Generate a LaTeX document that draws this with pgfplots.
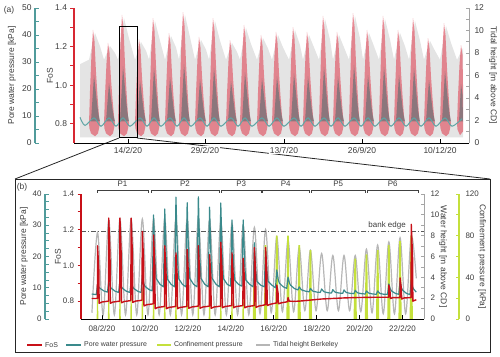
\documentclass[border=0pt]{standalone}
\usepackage{fontspec}
\setmainfont{Liberation Sans}
\usepackage{pgfplots}
\pgfplotsset{compat=1.18}
\definecolor{redA}{RGB}{225,95,110}
\definecolor{redaxis}{RGB}{215,40,50}
\definecolor{redB}{RGB}{200,16,24}
\definecolor{tealA}{RGB}{95,165,165}
\definecolor{tealaxis}{RGB}{80,155,155}
\definecolor{tealB}{RGB}{58,138,140}
\definecolor{darkin}{RGB}{95,112,115}
\definecolor{grayA}{RGB}{228,228,228}
\definecolor{tideB}{RGB}{182,182,182}
\definecolor{grayaxis}{RGB}{165,165,165}
\definecolor{limeC}{RGB}{196,224,60}
\definecolor{txt}{RGB}{60,60,60}
\pgfplotsset{
  base/.style={scale only axis, anchor=south west,
    /pgf/number format/assume math mode=true,
    major tick length=3.5bp, minor tick length=3.5bp},
  pa/.style={base, at={(74bp,214bp)}, width=395bp, height=135bp, xmin=74, xmax=469,
    tick label style={font=\fontsize{8.5}{9}\selectfont, text=txt}},
  pb/.style={base, at={(81bp,38bp)}, width=343bp, height=125bp, xmin=7.02, xmax=23.0,
    tick label style={font=\fontsize{8}{9}\selectfont, text=txt}},
  ylab/.style 2 args={every axis y label/.style={at={(axis description cs:#1,0.5)}, rotate=#2, anchor=center, font=\fontsize{8.5}{9}\selectfont, text=txt}},
}
\begin{document}
\begin{tikzpicture}
\useasboundingbox (0,0) rectangle (500bp,357bp);
% connecting lines (annotation)
\draw[line width=0.8bp, black!85] (119bp,219bp) -- (15bp,178bp);
\draw[line width=0.8bp, black!85] (137bp,219bp) -- (490bp,178bp);
\draw[line width=0.8bp, black!85] (15bp,5bp) rectangle (490bp,178bp);
\node[font=\fontsize{8.5}{9}\selectfont, text=txt] at (9bp,347bp) {(a)};
\node[font=\fontsize{8.5}{9}\selectfont, text=txt] at (22bp,170bp) {(b)};

%%%%%%%%%%%%%%%% PANEL A %%%%%%%%%%%%%%%%
\begin{axis}[pa, ymin=0, ymax=12,
  axis x line*=bottom, axis y line*=right, tick align=inside,
  x axis line style={black, line width=0.8bp}, xtick style={black, line width=0.8bp},
  y axis line style={grayaxis, line width=1bp}, ytick style={grayaxis, line width=0.8bp},
  xtick={128,205,284,362,440}, xticklabels={14/2/20,29/2/20,13/7/20,26/9/20,10/12/20},
  xticklabel style={fill=white, inner sep=1bp, yshift=-3bp},
  ytick={0,1,...,12}, yticklabels={0,,2,,4,,6,,8,,10,,12},
  yticklabel style={xshift=2bp},
  ylabel={Tidal height [m above CD]}, ylab={1.061}{-90}]
\addplot[fill=grayA, draw=none] coordinates {
(80,0.5)(80,7.0)
(89,7.4)(95,9.78)(100,8.6)
(104,7.4)(110,8.62)(115,8.0)
(118,7.4)(124,11.11)(129,9.3)
(135,7.4)(141,8.98)(146,8.2)
(149,7.4)(155,10.84)(160,9.1)
(165,7.4)(171,9.51)(176,8.5)
(179,7.4)(185,11.38)(190,9.4)
(195,7.4)(201,9.16)(206,8.3)
(209,7.4)(215,10.84)(220,9.1)
(226,7.4)(232,8.89)(237,8.1)
(240,7.4)(246,10.22)(251,8.8)
(257,7.4)(263,9.33)(268,8.4)
(272,7.4)(278,9.60)(283,8.5)
(289,7.4)(295,10.04)(300,8.7)
(303,7.4)(309,9.60)(314,8.5)
(319,7.4)(325,11.02)(330,9.2)
(333,7.4)(339,9.60)(344,8.5)
(349,7.4)(355,11.29)(360,9.3)
(363,7.4)(369,9.78)(374,8.6)
(379,7.4)(385,11.02)(390,9.2)
(394,7.4)(400,9.78)(405,8.6)
(409,7.4)(415,10.84)(420,9.1)
(424,7.4)(430,9.07)(435,8.2)
(440,7.4)(446,10.40)(451,8.9)
(457,7.4)(463,8.44)(463,0.5)
} -- cycle;
\end{axis}
\begin{axis}[pa, ymin=0.7, ymax=1.4,
  axis x line=none, axis y line*=left, tick align=outside, xtick=\empty,
  y axis line style={redaxis, line width=1.2bp}, ytick style={redaxis, line width=0.8bp},
  ytick={0.8,0.9,1.0,1.1,1.2,1.3,1.4}, yticklabels={0.8,,1.0,,1.2,,1.4},
  ylabel={FoS}, ylab={-0.061}{90}, unbounded coords=jump]
\addplot[fill=redA, fill opacity=0.72, draw=none] coordinates {
(89,.80)(90,.970)(91.5,1.165)(93,1.286)(94.5,1.228)(96,1.067)(97.5,.946)(99,.84)(100,.80)(98,.75)(95,.735)(91,.75)(89.5,.775)(nan,nan)
(104,.80)(105,.947)(106.5,1.114)(108,1.219)(109.5,1.169)(111,1.030)(112.5,.926)(114,.84)(115,.80)(113,.75)(110,.735)(106,.75)(104.5,.775)(nan,nan)
(118,.80)(119,.997)(120.5,1.223)(122,1.364)(123.5,1.296)(125,1.110)(126.5,.969)(128,.84)(129,.80)(127,.75)(124,.735)(120,.75)(118.5,.775)(nan,nan)
(135,.80)(136,.954)(137.5,1.129)(139,1.239)(140.5,1.186)(142,1.041)(143.5,.932)(145,.84)(146,.80)(144,.75)(141,.735)(137,.75)(135.5,.775)(nan,nan)
(149,.80)(150,.992)(151.5,1.211)(153,1.348)(154.5,1.282)(156,1.101)(157.5,.964)(159,.84)(160,.80)(158,.75)(155,.735)(151,.75)(149.5,.775)(nan,nan)
(165,.80)(166,.965)(167.5,1.153)(169,1.270)(170.5,1.214)(172,1.059)(173.5,.941)(175,.84)(176,.80)(174,.75)(171,.735)(167,.75)(165.5,.775)(nan,nan)
(179,.80)(180,1.003)(181.5,1.234)(183,1.379)(184.5,1.310)(186,1.118)(187.5,.974)(189,.84)(190,.80)(188,.75)(185,.735)(181,.75)(179.5,.775)(nan,nan)
(195,.80)(196,.958)(197.5,1.138)(199,1.250)(200.5,1.196)(202,1.048)(203.5,.935)(205,.84)(206,.80)(204,.75)(201,.735)(197,.75)(195.5,.775)(nan,nan)
(209,.80)(210,.992)(211.5,1.211)(213,1.348)(214.5,1.282)(216,1.101)(217.5,.964)(219,.84)(220,.80)(218,.75)(215,.735)(211,.75)(209.5,.775)(nan,nan)
(226,.80)(227,.952)(228.5,1.126)(230,1.234)(231.5,1.182)(233,1.039)(234.5,.930)(236,.84)(237,.80)(235,.75)(232,.735)(228,.75)(226.5,.775)(nan,nan)
(240,.80)(241,.979)(242.5,1.184)(244,1.312)(245.5,1.251)(247,1.082)(248.5,.954)(250,.84)(251,.80)(249,.75)(246,.735)(242,.75)(240.5,.775)(nan,nan)
(257,.80)(258,.961)(259.5,1.145)(261,1.260)(262.5,1.205)(264,1.053)(265.5,.938)(267,.84)(268,.80)(266,.75)(263,.735)(259,.75)(257.5,.775)(nan,nan)
(272,.80)(273,.967)(274.5,1.157)(276,1.276)(277.5,1.219)(279,1.062)(280.5,.943)(282,.84)(283,.80)(281,.75)(278,.735)(274,.75)(272.5,.775)(nan,nan)
(289,.80)(290,.975)(291.5,1.176)(293,1.301)(294.5,1.241)(296,1.076)(297.5,.950)(299,.84)(300,.80)(298,.75)(295,.735)(291,.75)(289.5,.775)(nan,nan)
(303,.80)(304,.967)(305.5,1.157)(307,1.276)(308.5,1.219)(310,1.062)(311.5,.943)(313,.84)(314,.80)(312,.75)(309,.735)(305,.75)(303.5,.775)(nan,nan)
(319,.80)(320,.996)(321.5,1.219)(323,1.359)(324.5,1.292)(326,1.107)(327.5,.968)(329,.84)(330,.80)(328,.75)(325,.735)(321,.75)(319.5,.775)(nan,nan)
(333,.80)(334,.967)(335.5,1.157)(337,1.276)(338.5,1.219)(340,1.062)(341.5,.943)(343,.84)(344,.80)(342,.75)(339,.735)(335,.75)(333.5,.775)(nan,nan)
(349,.80)(350,1.001)(351.5,1.231)(353,1.374)(354.5,1.305)(356,1.116)(357.5,.972)(359,.84)(360,.80)(358,.75)(355,.735)(351,.75)(349.5,.775)(nan,nan)
(363,.80)(364,.970)(365.5,1.165)(367,1.286)(368.5,1.228)(370,1.067)(371.5,.946)(373,.84)(374,.80)(372,.75)(369,.735)(365,.75)(363.5,.775)(nan,nan)
(379,.80)(380,.996)(381.5,1.219)(383,1.359)(384.5,1.292)(386,1.107)(387.5,.968)(389,.84)(390,.80)(388,.75)(385,.735)(381,.75)(379.5,.775)(nan,nan)
(394,.80)(395,.970)(396.5,1.165)(398,1.286)(399.5,1.228)(401,1.067)(402.5,.946)(404,.84)(405,.80)(403,.75)(400,.735)(396,.75)(394.5,.775)(nan,nan)
(409,.80)(410,.992)(411.5,1.211)(413,1.348)(414.5,1.282)(416,1.101)(417.5,.964)(419,.84)(420,.80)(418,.75)(415,.735)(411,.75)(409.5,.775)(nan,nan)
(424,.80)(425,.955)(426.5,1.133)(428,1.244)(429.5,1.191)(431,1.044)(432.5,.933)(434,.84)(435,.80)(433,.75)(430,.735)(426,.75)(424.5,.775)(nan,nan)
(440,.80)(441,.983)(442.5,1.192)(444,1.322)(445.5,1.259)(447,1.087)(448.5,.957)(450,.84)(451,.80)(449,.75)(446,.735)(442,.75)(440.5,.775)(nan,nan)
(457,.80)(458,.943)(459.5,1.106)(461,1.208)(462.5,1.159)(463,1.0)(463,.76)(460,.74)(457.5,.77)
};
\end{axis}
\begin{axis}[pa, ymin=0, ymax=50, hide axis, unbounded coords=jump]
\addplot[fill=darkin, fill opacity=0.65, draw=none] coordinates {
(91,8)(92.5,16.6)(94,25.1)(95.5,20.0)(97,14.8)(98.5,10.6)(100,8)(nan,nan)
(106,8)(107.5,15.1)(109,22.2)(110.5,17.9)(112,13.7)(113.5,10.1)(115,8)(nan,nan)
(120,8)(121.5,18.2)(123,28.4)(124.5,22.3)(126,16.2)(127.5,11.1)(129,8)(nan,nan)
(137,8)(138.5,15.6)(140,23.1)(141.5,18.6)(143,14.0)(144.5,10.3)(146,8)(nan,nan)
(151,8)(152.5,17.9)(154,27.8)(155.5,21.9)(157,15.9)(158.5,11.0)(160,8)(nan,nan)
(167,8)(168.5,16.2)(170,24.4)(171.5,19.5)(173,14.6)(174.5,10.5)(176,8)(nan,nan)
(181,8)(182.5,18.6)(184,29.1)(185.5,22.8)(187,16.4)(188.5,11.2)(190,8)(nan,nan)
(197,8)(198.5,15.8)(200,23.6)(201.5,18.9)(203,14.2)(204.5,10.3)(206,8)(nan,nan)
(211,8)(212.5,17.9)(214,27.8)(215.5,21.9)(217,15.9)(218.5,11.0)(220,8)(nan,nan)
(228,8)(229.5,15.5)(231,22.9)(232.5,18.4)(234,14.0)(235.5,10.2)(237,8)(nan,nan)
(242,8)(243.5,17.1)(245,26.2)(246.5,20.7)(248,15.3)(249.5,10.7)(251,8)(nan,nan)
(259,8)(260.5,16.0)(262,24.0)(263.5,19.2)(265,14.4)(266.5,10.4)(268,8)(nan,nan)
(274,8)(275.5,16.4)(277,24.7)(278.5,19.7)(280,14.7)(281.5,10.5)(283,8)(nan,nan)
(291,8)(292.5,16.9)(294,25.8)(295.5,20.5)(297,15.1)(298.5,10.7)(300,8)(nan,nan)
(305,8)(306.5,16.4)(308,24.7)(309.5,19.7)(311,14.7)(312.5,10.5)(314,8)(nan,nan)
(321,8)(322.5,18.1)(324,28.2)(325.5,22.1)(327,16.1)(328.5,11.0)(330,8)(nan,nan)
(335,8)(336.5,16.4)(338,24.7)(339.5,19.7)(341,14.7)(342.5,10.5)(344,8)(nan,nan)
(351,8)(352.5,18.5)(354,28.9)(355.5,22.6)(357,16.4)(358.5,11.1)(360,8)(nan,nan)
(365,8)(366.5,16.6)(368,25.1)(369.5,20.0)(371,14.8)(372.5,10.6)(374,8)(nan,nan)
(381,8)(382.5,18.1)(384,28.2)(385.5,22.1)(387,16.1)(388.5,11.0)(390,8)(nan,nan)
(396,8)(397.5,16.6)(399,25.1)(400.5,20.0)(402,14.8)(403.5,10.6)(405,8)(nan,nan)
(411,8)(412.5,17.9)(414,27.8)(415.5,21.9)(417,15.9)(418.5,11.0)(420,8)(nan,nan)
(426,8)(427.5,15.7)(429,23.3)(430.5,18.7)(432,14.1)(433.5,10.3)(435,8)(nan,nan)
(442,8)(443.5,17.4)(445,26.7)(446.5,21.1)(448,15.5)(449.5,10.8)(451,8)(nan,nan)
(459,8)(460,14.9)(461,21.8)(462.5,18.0)(463,8)
};
\addplot[tealA, line width=1bp, smooth] coordinates {
(80,9.5)(85,6.5)
(94,9.3)(101,6.2)(109,9.3)(116,6.2)(123,9.3)(130,6.2)(140,9.3)(147,6.2)(154,9.3)(161,6.2)
(170,9.3)(177,6.2)(184,9.3)(191,6.2)(200,9.3)(207,6.2)(214,9.3)(221,6.2)(231,9.3)(238,6.2)
(245,9.3)(252,6.2)(262,9.3)(269,6.2)(277,9.3)(284,6.2)(294,9.3)(301,6.2)(308,9.3)(315,6.2)
(324,9.3)(331,6.2)(338,9.3)(345,6.2)(354,9.3)(361,6.2)(368,9.3)(375,6.2)(384,9.3)(391,6.2)
(399,9.3)(406,6.2)(414,9.3)(421,6.2)(429,9.3)(436,6.2)(445,9.3)(452,6.2)(462,9.0)
};
\end{axis}
\begin{axis}[base, at={(35bp,214bp)}, width=10bp, height=135bp, xmin=0, xmax=1, ymin=0, ymax=50,
  tick label style={font=\fontsize{8.5}{9}\selectfont, text=txt},
  axis x line=none, axis y line*=left, tick align=inside, xtick=\empty,
  y axis line style={tealaxis, line width=1.2bp}, ytick style={tealaxis, line width=0.8bp},
  ytick={0,5,...,50}, yticklabels={0,,10,,20,,30,,40,,50},
  ylabel={Pore water pressure [kPa]}, ylab={-2.3}{90}]
\addplot[draw=none] coordinates {(0,0)};
\end{axis}
\draw[line width=1bp, black] (119bp,219bp) rectangle (137bp,330bp);

%%%%%%%%%%%%%%%% PANEL B %%%%%%%%%%%%%%%%
\begin{axis}[pb, ymin=0, ymax=12,
  axis x line*=bottom, axis y line*=right, tick align=inside,
  x axis line style={black, line width=0.8bp}, xtick style={black, line width=0.8bp},
  y axis line style={grayaxis, line width=1bp}, ytick style={grayaxis, line width=0.8bp},
  xtick={8,10,...,22}, xticklabels={08/2/20,10/2/20,12/2/20,14/2/20,16/2/20,18/2/20,20/2/20,22/2/20},
  xticklabel style={yshift=-3bp},
  ytick={0,1,...,12}, yticklabels={0,,2,,4,,6,,8,,10,,12},
  yticklabel style={xshift=3bp},
  ylabel={Water height [m above CD]}, ylab={1.0554}{-90}]
\addplot[tideB, line width=1.2bp, smooth, tension=0.55] coordinates {
(7.53,0.6)
(7.790,8.3)(8.051,0.4)(8.312,9.5)(8.573,0.4)(8.834,9.6)(9.095,0.4)(9.356,9.6)(9.617,0.4)
(9.878,9.6)(10.139,0.4)(10.400,9.6)(10.661,0.4)(10.922,9.6)(11.183,0.4)(11.444,9.7)(11.705,0.4)
(11.966,9.6)(12.227,0.4)(12.488,9.6)(12.749,0.4)(13.010,9.5)(13.271,0.4)(13.532,9.4)(13.793,0.4)
(14.054,9.2)(14.315,0.4)(14.576,9.0)(14.837,0.4)(15.098,8.8)(15.359,0.5)(15.620,8.6)(15.881,0.6)
(16.142,7.9)(16.403,0.7)(16.664,7.6)(16.925,0.7)(17.186,6.9)(17.447,0.8)(17.708,6.6)(17.969,0.8)
(18.230,6.3)(18.491,0.8)(18.752,6.1)(19.013,0.8)(19.274,6.1)(19.535,0.8)(19.796,6.1)(20.057,0.7)
(20.318,6.7)(20.579,0.6)(20.840,7.1)(21.101,0.5)(21.362,7.4)(21.623,0.5)(21.884,7.8)(22.145,0.5)
(22.406,8.0)(22.64,3.9)
};
\addplot[black!65, line width=1bp, dash pattern=on 5bp off 2bp on 1bp off 2bp] coordinates {(7.02,8.38) (23.0,8.38)};
\node[font=\fontsize{8}{9}\selectfont, text=txt] at (axis cs:21.28,9.0) {bank edge};
\end{axis}
\begin{axis}[pb, ymin=0, ymax=120, hide axis]
\addplot[fill=limeC, draw=none] coordinates {
(7.5,0)
(7.750,0)(7.775,30)(7.805,30)(7.830,0)
(8.272,0)(8.297,30)(8.327,30)(8.352,0)
(8.794,0)(8.819,30)(8.849,30)(8.874,0)
(9.316,0)(9.341,30)(9.371,30)(9.396,0)
(9.838,0)(9.863,30)(9.893,30)(9.918,0)
(10.360,0)(10.385,30)(10.415,30)(10.440,0)
(10.882,0)(10.907,30)(10.937,30)(10.962,0)
(11.404,0)(11.429,30)(11.459,30)(11.484,0)
(11.926,0)(11.951,30)(11.981,30)(12.006,0)
(12.448,0)(12.473,30)(12.503,30)(12.528,0)
(12.970,0)(12.995,30)(13.025,30)(13.050,0)
(13.492,0)(13.517,30)(13.547,30)(13.572,0)
(14.014,0)(14.039,30)(14.069,30)(14.094,0)
(14.536,0)(14.561,30)(14.591,30)(14.616,0)
(15.023,0)(15.058,52)(15.138,52)(15.173,0)
(15.545,0)(15.580,71)(15.660,71)(15.695,0)
(16.067,0)(16.102,80)(16.182,80)(16.217,0)
(16.589,0)(16.624,80)(16.704,80)(16.739,0)
(17.111,0)(17.146,71)(17.226,71)(17.261,0)
(17.633,0)(17.668,66)(17.748,66)(17.783,0)
(19.721,0)(19.756,58)(19.836,58)(19.871,0)
(20.243,0)(20.278,62)(20.358,62)(20.393,0)
(20.765,0)(20.800,66)(20.880,66)(20.915,0)
(21.287,0)(21.322,71)(21.402,71)(21.437,0)
(21.809,0)(21.844,75)(21.924,75)(21.959,0)
(22.331,0)(22.366,80)(22.446,80)(22.481,0)
(22.6,0)
} \closedcycle;
\end{axis}
\begin{axis}[pb, ymin=0, ymax=40, hide axis]
\addplot[tealB, line width=1.2bp, line join=round] coordinates {
(7.52,8.0)(7.73,7.8)
(7.790,11)(7.86,10.1)(7.91,9.8)(8.09,8.96)(8.252,8.6)
(8.312,12)(8.382,10.35)(8.432,9.8)(8.612,8.89)(8.774,8.5)
(8.834,12)(8.904,10.35)(8.954,9.8)(9.134,8.89)(9.296,8.5)
(9.356,12)(9.426,10.35)(9.476,9.8)(9.656,8.89)(9.818,8.5)
(9.878,14)(9.948,11.4)(9.998,10.5)(10.178,9.45)(10.34,9.0)
(10.400,33.3)(10.47,18.1)(10.52,13)(10.70,11.1)(10.862,10.3)
(10.922,35.2)(10.992,18.6)(11.042,12.8)(11.222,11.05)(11.384,10.3)
(11.444,39)(11.514,19.5)(11.564,13)(11.744,11.1)(11.906,10.3)
(11.966,37.2)(12.036,19.0)(12.086,13)(12.266,11.1)(12.428,10.3)
(12.488,39.1)(12.558,19.5)(12.608,13)(12.788,11.1)(12.95,10.3)
(13.010,35.8)(13.08,18.7)(13.13,13)(13.31,11.1)(13.472,10.3)
(13.532,37.1)(13.602,19.0)(13.652,13)(13.832,11.1)(13.994,10.5)
(14.054,31.7)(14.124,17.3)(14.174,12.5)(14.354,11.1)(14.516,10.5)
(14.576,31.7)(14.646,17.3)(14.696,12.5)(14.876,11.1)(15.038,10.3)
(15.098,24.4)(15.168,15.1)(15.218,12)(15.398,10.8)(15.56,10.3)
(15.620,22)(15.69,14.5)(15.74,12)(15.92,10.8)(16.082,10.0)
(16.142,15.7)(16.212,12.5)(16.262,11.5)(16.442,10.3)(16.604,9.8)
(16.664,13.4)(16.734,11.45)(16.784,10.8)(16.964,9.75)(17.126,9.3)
(17.186,10.3)(17.256,9.6)(17.306,9.3)(17.486,8.9)(17.648,8.7)
(17.708,9.8)(17.778,9.2)(17.828,8.9)(18.008,8.6)(18.17,8.5)
(18.230,9.6)(18.30,9.0)(18.35,8.7)(18.53,8.4)(18.692,8.3)
(18.752,9.4)(18.822,8.8)(18.872,8.55)(19.052,8.3)(19.214,8.2)
(19.274,9.3)(19.344,8.7)(19.394,8.45)(19.574,8.2)(19.736,8.1)
(19.796,9.2)(19.866,8.6)(19.916,8.35)(20.096,8.1)(20.258,8.0)
(20.318,9.0)(20.388,8.5)(20.438,8.25)(20.618,8.0)(20.78,7.9)
(20.840,9.0)(20.91,8.4)(20.96,8.15)(21.14,7.9)(21.302,7.9)
(21.362,11.2)(21.432,9.6)(21.482,9.0)(21.662,8.2)(21.824,7.9)
(21.884,12)(21.954,9.9)(22.004,9.2)(22.184,8.2)(22.346,7.8)
(22.406,12.5)(22.476,10.2)(22.526,9.5)(22.64,8.6)
};
\end{axis}
\begin{axis}[pb, ymin=0.7, ymax=1.4, clip mode=individual,
  axis x line=none, axis y line*=left, tick align=outside, xtick=\empty,
  y axis line style={redB, line width=1.2bp}, ytick style={redB, line width=0.8bp},
  ytick={0.8,0.9,1.0,1.1,1.2,1.3,1.4}, yticklabels={0.8,,1.0,,1.2,,1.4},
  ylabel={FoS}, ylab={-0.067}{90}]
\addplot[redB, line width=1.4bp, line join=round] coordinates {
(7.52,0.815)(7.785,0.815)
(7.790,1.11)(7.850,0.976)(7.865,0.788)(7.99,0.795)(8.30,0.80)
(8.312,1.265)(8.372,1.056)(8.387,0.788)(8.51,0.795)(8.82,0.80)
(8.834,1.265)(8.894,1.056)(8.909,0.791)(9.03,0.798)(9.34,0.803)
(9.356,1.265)(9.416,1.057)(9.431,0.793)(9.55,0.80)(9.86,0.805)
(9.878,1.19)(9.938,1.017)(9.953,0.773)(10.08,0.78)(10.39,0.785)
(10.400,1.17)(10.46,0.997)(10.475,0.758)(10.60,0.765)(10.91,0.77)
(10.922,1.11)(10.982,0.957)(10.997,0.758)(11.12,0.765)(11.43,0.77)
(11.444,1.07)(11.504,0.935)(11.519,0.758)(11.64,0.765)(11.95,0.77)
(11.966,1.09)(12.026,0.946)(12.041,0.76)(12.17,0.767)(12.48,0.772)
(12.488,1.11)(12.548,0.958)(12.563,0.76)(12.69,0.767)(13.00,0.772)
(13.010,1.06)(13.07,0.93)(13.085,0.76)(13.21,0.767)(13.52,0.772)
(13.532,1.13)(13.592,0.969)(13.607,0.763)(13.73,0.77)(14.04,0.775)
(14.054,1.07)(14.114,0.937)(14.129,0.763)(14.25,0.77)(14.56,0.775)
(14.576,1.04)(14.636,0.921)(14.651,0.763)(14.78,0.77)(15.09,0.775)
(15.098,1.10)(15.158,0.954)(15.173,0.765)(15.30,0.772)(15.61,0.78)
(15.620,1.10)(15.68,0.956)(15.695,0.775)(15.82,0.782)(16.13,0.79)
(16.142,0.89)(16.202,0.845)(16.217,0.785)(16.34,0.79)(16.65,0.797)
(16.664,0.82)(16.72,0.80)(16.90,0.799)(17.186,0.80)
(17.708,0.806)(18.23,0.812)(18.752,0.815)(19.274,0.818)(19.796,0.82)(20.318,0.821)(20.84,0.822)(21.357,0.822)
(21.362,0.89)(21.42,0.85)(21.435,0.815)(21.56,0.82)(21.879,0.82)
(21.884,0.93)(21.944,0.87)(21.959,0.812)(22.08,0.818)(22.401,0.82)
(22.406,1.23)(22.466,1.05)(22.481,0.80)(22.60,0.806)(22.64,0.808)
};
\begin{scope}[line width=0.8bp, black!75]
\draw (axis cs:7.77,1.406) -- (axis cs:7.77,1.4224) -- (axis cs:10.14,1.4224) -- (axis cs:10.14,1.406);
\draw (axis cs:10.28,1.406) -- (axis cs:10.28,1.4224) -- (axis cs:13.45,1.4224) -- (axis cs:13.45,1.406);
\draw (axis cs:13.55,1.406) -- (axis cs:13.55,1.4224) -- (axis cs:15.41,1.4224) -- (axis cs:15.41,1.406);
\draw (axis cs:15.46,1.406) -- (axis cs:15.46,1.4224) -- (axis cs:17.65,1.4224) -- (axis cs:17.65,1.406);
\draw (axis cs:17.74,1.406) -- (axis cs:17.74,1.4224) -- (axis cs:20.26,1.4224) -- (axis cs:20.26,1.406);
\draw (axis cs:20.35,1.406) -- (axis cs:20.35,1.4224) -- (axis cs:22.73,1.4224) -- (axis cs:22.73,1.406);
\end{scope}
\begin{scope}[every node/.style={font=\fontsize{8}{9}\selectfont, text=txt}]
\node at (axis cs:8.955,1.457) {P1};
\node at (axis cs:11.865,1.457) {P2};
\node at (axis cs:14.48,1.457) {P3};
\node at (axis cs:16.555,1.457) {P4};
\node at (axis cs:19.0,1.457) {P5};
\node at (axis cs:21.54,1.457) {P6};
\end{scope}
\end{axis}
\begin{axis}[base, at={(45bp,38bp)}, width=10bp, height=125bp, xmin=0, xmax=1, ymin=0, ymax=40,
  tick label style={font=\fontsize{8}{9}\selectfont, text=txt},
  axis x line=none, axis y line*=left, tick align=inside, xtick=\empty,
  y axis line style={tealaxis, line width=1.2bp}, ytick style={tealaxis, line width=0.8bp},
  ytick={0,2.5,...,40}, yticklabels={0,,,,10,,,,20,,,,30,,,,40},
  ylabel={Pore water pressure [kPa]}, ylab={-2.1}{90}]
\addplot[draw=none] coordinates {(0,0)};
\end{axis}
\begin{axis}[base, at={(449bp,38bp)}, width=10bp, height=125bp, xmin=0, xmax=1, ymin=0, ymax=120,
  tick label style={font=\fontsize{8}{9}\selectfont, text=txt},
  axis x line=none, axis y line*=right, tick align=inside, xtick=\empty,
  y axis line style={limeC, line width=1.2bp}, ytick style={limeC, line width=0.8bp},
  ytick={0,20,...,120}, yticklabels={0,,40,,80,,120},
  yticklabel style={xshift=3bp},
  ylabel={Confinement pressure [kPa]}, ylab={3.3}{-90}]
\addplot[draw=none] coordinates {(0,0)};
\end{axis}
% legend (panel b)
\begin{scope}[every node/.style={font=\fontsize{7}{8}\selectfont, text=txt, anchor=west, inner sep=1bp}]
\draw[redB, line width=1.5bp] (27bp,12bp) -- (42bp,12bp);
\node at (44bp,12bp) {FoS};
\draw[tealB, line width=1.2bp] (66bp,12bp) -- (81bp,12bp);
\node at (83bp,12bp) {Pore water pressure};
\draw[limeC, line width=2bp] (157bp,12bp) -- (171bp,12bp);
\node at (173bp,12bp) {Confinement pressure};
\draw[tideB, line width=1.2bp] (256bp,12bp) -- (270bp,12bp);
\node at (272bp,12bp) {Tidal height Berkeley};
\end{scope}
\end{tikzpicture}
\end{document}
